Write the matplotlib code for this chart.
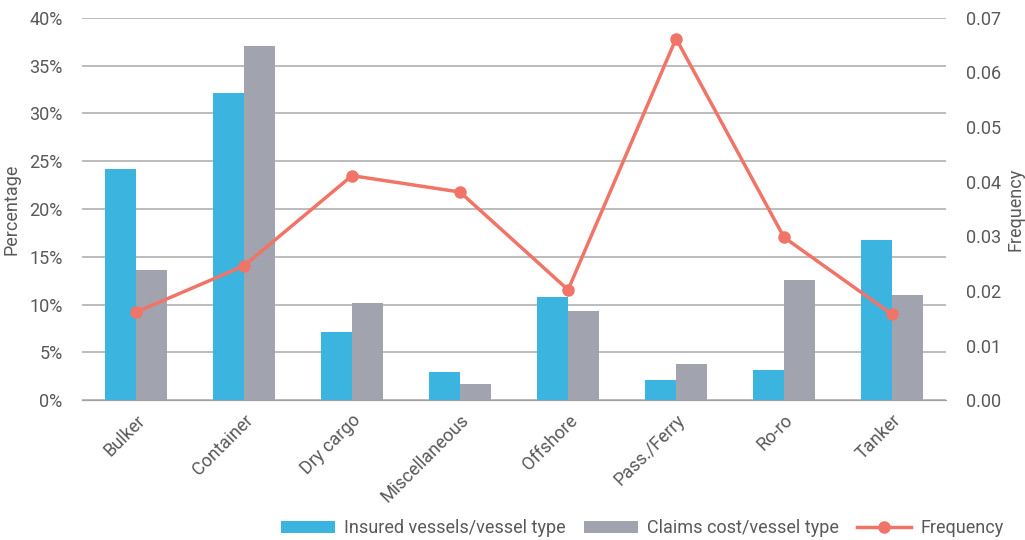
import matplotlib.pyplot as plt
import numpy as np

# data
categories = ["Bulker", "Container", "Dry cargo", "Miscellaneous", "Offshore", "Pass./Ferry", "Ro-ro", "Tanker"]
insured = [24.2, 32.1, 7.1, 2.9, 10.8, 2.1, 3.2, 16.8]
claims = [13.6, 37.0, 10.2, 1.7, 9.3, 3.8, 12.6, 11.0]
frequency = [0.0161, 0.0246, 0.0411, 0.0381, 0.0202, 0.0662, 0.0298, 0.0157]

plt.rcParams['font.family'] = ['Roboto', 'DejaVu Sans']

blue = "#3CB4E0"
grey = "#A1A4AE"
red = "#F07468"
txt = "#595959"

fig = plt.figure(figsize=(10.25, 5.4), dpi=100)
ax = fig.add_axes([0.08, 0.259, 0.843, 0.708])
ax2 = ax.twinx()

x = np.arange(len(categories))
w = 0.29
ax.bar(x - w/2, insured, w, color=blue, label="Insured vessels/vessel type", zorder=2)
ax.bar(x + w/2, claims, w, color=grey, label="Claims cost/vessel type", zorder=2)
ax2.plot(x, frequency, color=red, lw=2.5, marker="o", ms=8, label="Frequency", zorder=3)

ax.set_xlim(-0.5, len(categories) - 0.5)
ax.set_ylim(0, 40)
ax2.set_ylim(0, 0.07)
ax.set_yticks(range(0, 41, 5))
ax.set_yticklabels([f"{v}%" for v in range(0, 41, 5)])
ax2.set_yticks(np.arange(0, 0.071, 0.01))
ax2.set_yticklabels([f"{v:.2f}" for v in np.arange(0, 0.071, 0.01)])

ax.yaxis.grid(True, color="#B0B0B0", lw=1.2, zorder=0)
ax.set_axisbelow(True)
for a in (ax, ax2):
    for s in ("top", "left", "right"):
        a.spines[s].set_visible(False)
    a.spines["bottom"].set_color("#A0A0A0")
    a.tick_params(length=0, labelsize=13, colors=txt)

ax.set_xticks(x)
ax.set_xticklabels(categories, rotation=45, ha="right", rotation_mode="anchor")
ax.tick_params(axis="x", pad=8)
ax.tick_params(axis="y", pad=14)
ax2.tick_params(axis="y", pad=14)

ax.set_ylabel("Percentage", fontsize=13, color=txt, labelpad=6)
ax2.set_ylabel("Frequency", fontsize=13, color=txt, rotation=90, labelpad=4)

h1, l1 = ax.get_legend_handles_labels()
h2, l2 = ax2.get_legend_handles_labels()
fig.legend(h1 + h2, l1 + l2, loc="lower right", bbox_to_anchor=(0.995, -0.025), ncol=3,
           frameon=False, fontsize=13, labelcolor=txt, handlelength=3.0, handleheight=0.6,
           handletextpad=0.5, columnspacing=1.0)

fig.savefig("out.png", dpi=100)
